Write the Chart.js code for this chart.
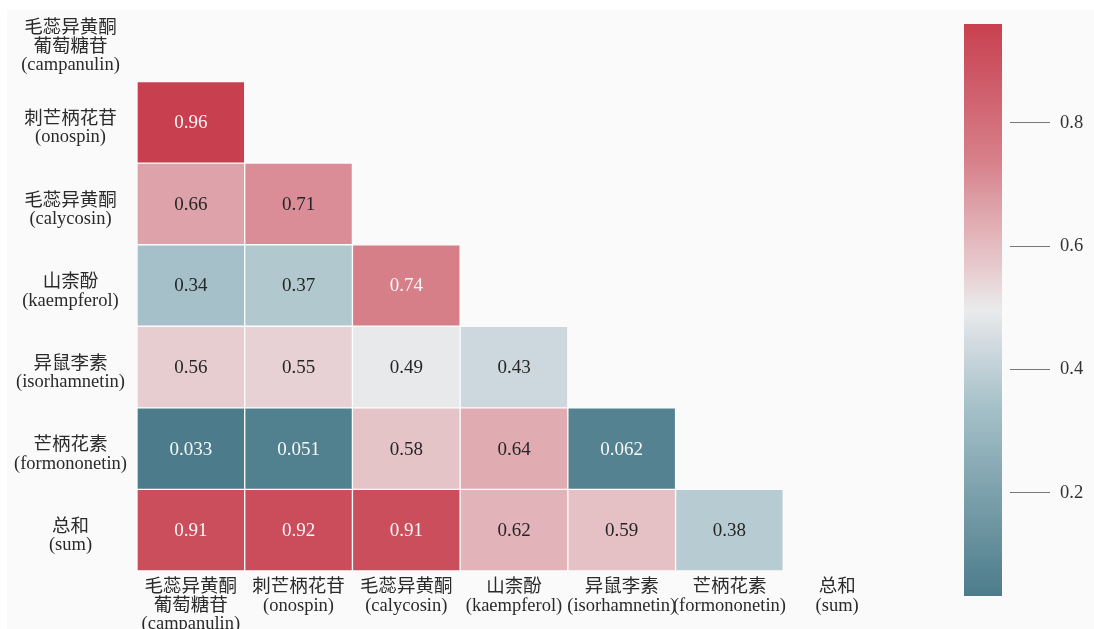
<!DOCTYPE html>
<html>
<head>
<meta charset="utf-8">
<script src="https://cdn.jsdelivr.net/npm/chart.js@4.4.1/dist/chart.umd.min.js"></script>
<style>
    html, body { margin: 0; padding: 0; background: #fff; }
    #paper { position: absolute; left: 7px; top: 10px; width: 1087px; height: 619px; background: #fafafa; }
    #heat { position: absolute; left: 0; top: 0; }
    #cbar { position: absolute; left: 940px; top: 0; }
</style>
</head>
<body>
<div id="paper"></div>
<canvas id="heat" width="900" height="629"></canvas>
<canvas id="cbar" width="154" height="629"></canvas>
<script>
// compound names, Chinese line(s) then the English name
const compounds = [
    ["毛蕊异黄酮", "葡萄糖苷", "(campanulin)"],
    ["刺芒柄花苷", "(onospin)"],
    ["毛蕊异黄酮", "(calycosin)"],
    ["山柰酚", "(kaempferol)"],
    ["异鼠李素", "(isorhamnetin)"],
    ["芒柄花素", "(formononetin)"],
    ["总和", "(sum)"]
];

// lower triangle of the correlation matrix, one array per row
const corrCampanulin = [];
const corrOnospin = [0.96];
const corrCalycosin = [0.66, 0.71];
const corrKaempferol = [0.34, 0.37, 0.74];
const corrIsorhamnetin = [0.56, 0.55, 0.49, 0.43];
const corrFormononetin = [0.033, 0.051, 0.58, 0.64, 0.062];
const corrSum = [0.91, 0.92, 0.91, 0.62, 0.59, 0.38];

const colorbarTicks = [0.2, 0.4, 0.6, 0.8];

const corr = [corrCampanulin, corrOnospin, corrCalycosin, corrKaempferol,
    corrIsorhamnetin, corrFormononetin, corrSum];

const allValues = corr.flat();
const vmin = Math.min(...allValues);
const vmax = Math.max(...allValues);

// blue-grey -> light -> red diverging palette
const palette = [
    [0.00, [76, 124, 139]],
    [0.33, [165, 192, 200]],
    [0.43, [205, 216, 222]],
    [0.50, [234, 235, 236]],
    [0.56, [232, 208, 211]],
    [0.68, [222, 162, 169]],
    [0.76, [215, 128, 138]],
    [1.00, [200, 64, 80]]
];

function cmap(v) {
    const t = Math.max(0, Math.min(1, (v - vmin) / (vmax - vmin)));
    for (let i = 1; i < palette.length; i++) {
        const [t1, c1] = palette[i];
        const [t0, c0] = palette[i - 1];
        if (t <= t1) {
            const f = (t - t0) / (t1 - t0);
            const c = c0.map((a, k) => Math.round(a + f * (c1[k] - a)));
            return `rgb(${c[0]},${c[1]},${c[2]})`;
        }
    }
    return "rgb(200,64,80)";
}

function textColour(v) {
    return (v > 0.72 || v < 0.2) ? "#f7f7f7" : "#262626";
}

function fmt(v) {
    return String(Number(v.toPrecision(2)));
}

const serif = "'Liberation Serif', 'Noto Sans CJK SC', serif";

// write the value in the middle of each cell
const cellText = {
    id: "cellText",
    afterDatasetsDraw(chart) {
        const ctx = chart.ctx;
        ctx.save();
        ctx.font = "19px " + serif;
        ctx.textAlign = "center";
        ctx.textBaseline = "middle";
        chart.data.datasets.forEach((ds, r) => {
            chart.getDatasetMeta(r).data.forEach((bar, c) => {
                const v = corr[r][c];
                if (v === undefined) return;
                const p = bar.getCenterPoint();
                ctx.fillStyle = textColour(v);
                ctx.fillText(fmt(v), p.x, p.y + 1);
            });
        });
        ctx.restore();
    }
};

const labelFont = { family: serif, size: 18.5, lineHeight: 1.0 };

const heatCtx = document.getElementById("heat").getContext("2d");

new Chart(heatCtx, {
    type: "bar",
    data: {
        labels: compounds.map((_, i) => "c" + i),
        datasets: corr.map((row, r) => ({
            data: compounds.map((_, c) => c < row.length ? [r, r + 1] : null),
            backgroundColor: ctx => {
                const v = corr[r][ctx.dataIndex];
                return v === undefined ? "transparent" : cmap(v);
            },
            borderColor: "rgba(255,255,255,0.45)",
            borderWidth: 1,
            borderSkipped: false,
            barPercentage: 1,
            categoryPercentage: 1,
            grouped: false
        }))
    },
    options: {
        responsive: false,
        animation: false,
        layout: { padding: { left: 0, right: 9, top: 0, bottom: 0 } },
        plugins: { legend: { display: false }, tooltip: { enabled: false } },
        scales: {
            x: {
                grid: { display: false, drawTicks: false },
                border: { display: false },
                ticks: {
                    padding: 7,
                    autoSkip: false,
                    maxRotation: 0,
                    minRotation: 0,
                    color: "#2a2a2a",
                    font: labelFont,
                    callback: (value, index) => compounds[index]
                },
                afterFit: s => { s.height = 58; s.paddingLeft = 0; s.paddingRight = 0; }
            },
            y: {
                type: "linear",
                reverse: true,
                min: 0,
                max: 7,
                grid: { display: false, drawTicks: false },
                border: { display: false },
                afterBuildTicks: s => { s.ticks = compounds.map((_, i) => ({ value: i + 0.5 })); },
                ticks: {
                    padding: 10,
                    crossAlign: "center",
                    labelOffset: 6,
                    color: "#2a2a2a",
                    font: labelFont,
                    callback: value => compounds[Math.floor(value)]
                },
                afterFit: s => { s.width = 137; s.paddingTop = 0; s.paddingBottom = 0; }
            }
        }
    },
    plugins: [cellText]
});

// colour bar
const cbarCtx = document.getElementById("cbar").getContext("2d");

new Chart(cbarCtx, {
    type: "bar",
    data: {
        labels: [""],
        datasets: [{
            data: [[vmin, vmax]],
            backgroundColor: ctx => {
                const chart = ctx.chart;
                if (!chart.chartArea) return cmap((vmin + vmax) / 2);
                const y = chart.scales.y;
                const g = chart.ctx.createLinearGradient(0, y.getPixelForValue(vmin), 0, y.getPixelForValue(vmax));
                for (let i = 0; i <= 40; i++) {
                    const t = i / 40;
                    g.addColorStop(t, cmap(vmin + t * (vmax - vmin)));
                }
                return g;
            },
            borderWidth: 0,
            barPercentage: 1,
            categoryPercentage: 1
        }]
    },
    options: {
        responsive: false,
        animation: false,
        layout: { padding: { left: 24, top: 24, bottom: 33, right: 0 } },
        plugins: { legend: { display: false }, tooltip: { enabled: false } },
        scales: {
            x: { display: false },
            y: {
                position: "right",
                min: vmin,
                max: vmax,
                border: { display: false },
                grid: {
                    display: true,
                    drawOnChartArea: false,
                    drawTicks: true,
                    tickLength: 48,
                    tickColor: "#777",
                    tickWidth: 1,
                    tickBorderDash: [0, 8, 40, 100]
                },
                afterBuildTicks: s => { s.ticks = colorbarTicks.map(v => ({ value: v })); },
                ticks: {
                    padding: 10,
                    color: "#333",
                    font: { family: serif, size: 18.5 },
                    callback: v => v.toFixed(1)
                },
                afterFit: s => { s.width = 92; s.paddingTop = 0; s.paddingBottom = 0; }
            }
        }
    }
});
</script>
</body>
</html>
